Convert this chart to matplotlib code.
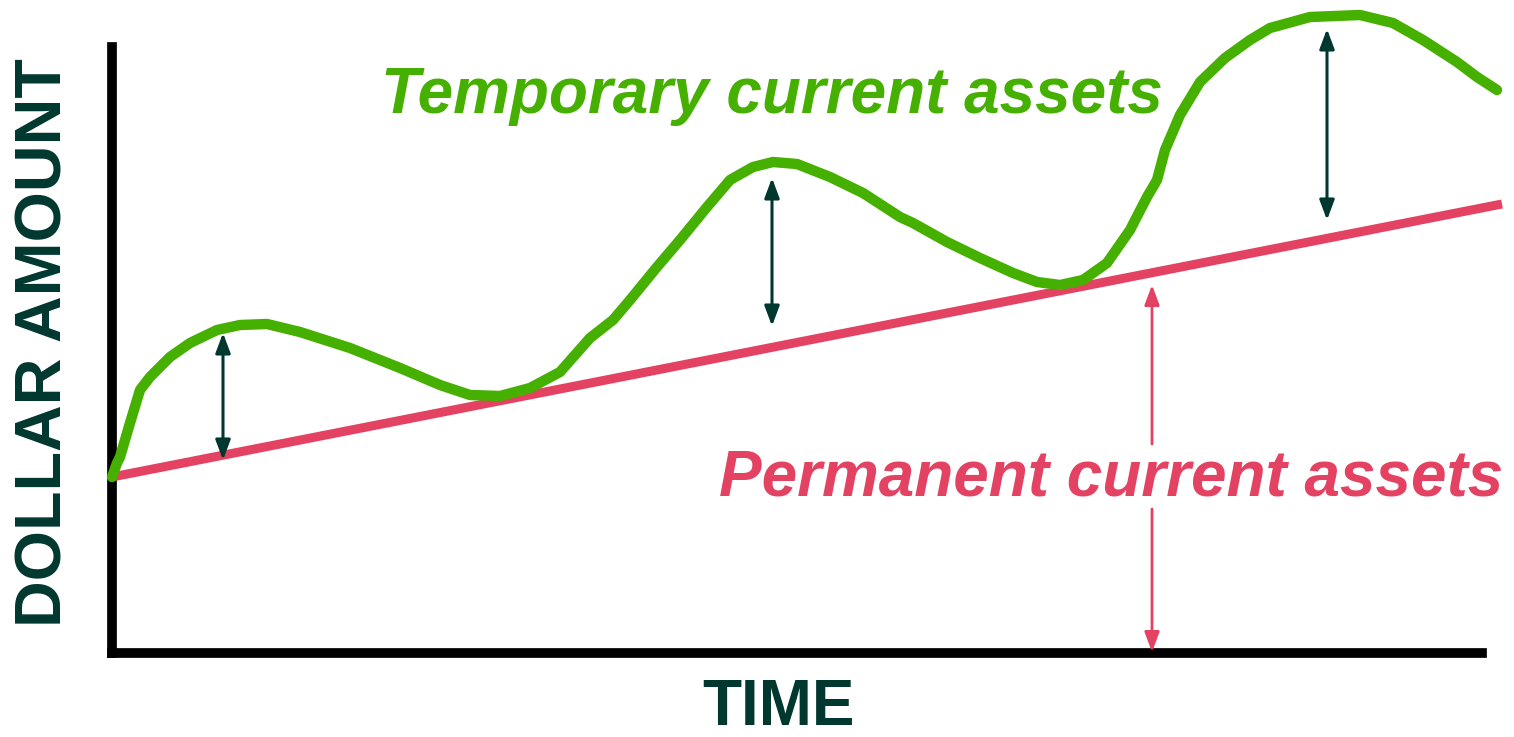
import matplotlib.pyplot as plt

# time / dollar values (arbitrary units measured from the axes origin)
temp_t = [0, 5, 8, 18, 28, 38, 58, 78, 105, 128, 155, 188, 238, 288, 328, 358, 388,
          418, 448, 478, 501, 518, 545, 568, 595, 618, 641, 661, 685, 718, 751, 788,
          801, 835, 868, 901, 925, 948, 971, 995, 1018, 1035, 1045, 1053, 1068, 1088,
          1113, 1138, 1158, 1198, 1248, 1281, 1311, 1345, 1365, 1385]
temp_v = [176, 190, 196, 230, 263, 276, 296, 310, 323, 328, 329, 321, 305, 285, 268,
          258, 257, 265, 281, 315, 333, 353, 386, 413, 446, 473, 486, 491, 489, 476,
          460, 436, 430, 411, 395, 380, 371, 368, 373, 390, 423, 456, 473, 503, 538,
          571, 595, 613, 625, 636, 638, 630, 613, 591, 576, 563]

perm_t = [0, 1390]
perm_v = [176, 449]

# gaps marked with double arrows: (time, low, high)
gap_t = [111, 660, 1215]
gap_lo = [193, 327, 433]
gap_hi = [320, 475, 624]

perm_arrow_t = 1040
perm_arrow_top = 368
text_gap = (144, 209)

GREEN = '#45B000'
PINK = '#E34262'
DARK = '#00372F'
FONT = 'Liberation Sans'
FS = 46

fig = plt.figure(figsize=(15.14, 7.37), dpi=100)
ax = fig.add_axes([112 / 1514, 84 / 737, 1375 / 1514, 611 / 737])
ax.set_xlim(0, 1375)
ax.set_ylim(0, 611)
for s in ['top', 'right']:
    ax.spines[s].set_visible(False)
for s in ['left', 'bottom']:
    ax.spines[s].set_linewidth(7)
    ax.spines[s].set_color('black')
    ax.spines[s].set_capstyle('projecting')
ax.spines['left'].set_bounds(0, 606)
ax.spines['bottom'].set_bounds(0, 1370)
ax.set_xticks([])
ax.set_yticks([])

ax.plot(perm_t, perm_v, color=PINK, lw=6.5, clip_on=False, zorder=3,
        solid_capstyle='butt')
ax.plot(temp_t, temp_v, color=GREEN, lw=7.5, clip_on=False, zorder=4,
        solid_capstyle='round', solid_joinstyle='round')

for t, lo, hi in zip(gap_t, gap_lo, gap_hi):
    ax.annotate('', xy=(t, hi), xytext=(t, lo),
                arrowprops=dict(arrowstyle='<|-|>,head_length=1.2,head_width=0.45',
                                color=DARK, lw=2.2, shrinkA=0, shrinkB=0),
                annotation_clip=False)

# permanent level arrow, broken by the label
ax.annotate('', xy=(perm_arrow_t, perm_arrow_top), xytext=(perm_arrow_t, text_gap[1]),
            arrowprops=dict(arrowstyle='-|>,head_length=1.2,head_width=0.45',
                            color=PINK, lw=2, shrinkA=0, shrinkB=0))
ax.annotate('', xy=(perm_arrow_t, 1), xytext=(perm_arrow_t, text_gap[0]),
            arrowprops=dict(arrowstyle='-|>,head_length=1.2,head_width=0.45',
                            color=PINK, lw=2, shrinkA=0, shrinkB=0))

ax.text(660, 540, 'Temporary current assets', color=GREEN, fontsize=FS,
        fontweight='bold', fontstyle='italic', family=FONT,
        ha='center', va='baseline')
ax.text(999, 158, 'Permanent current assets', color=PINK, fontsize=FS,
        fontweight='bold', fontstyle='italic', family=FONT,
        ha='center', va='baseline')

fig.text(45 / 1514, 1 - 343 / 737, 'DOLLAR AMOUNT', rotation=90, color=DARK,
         fontsize=FS + 0.5, fontweight='bold', family=FONT, ha='center', va='center')
fig.text(778 / 1514, 1 - 725 / 737, 'TIME', color=DARK, fontsize=FS,
         fontweight='bold', family=FONT, ha='center', va='baseline')

fig.savefig('out.png', dpi=100)
